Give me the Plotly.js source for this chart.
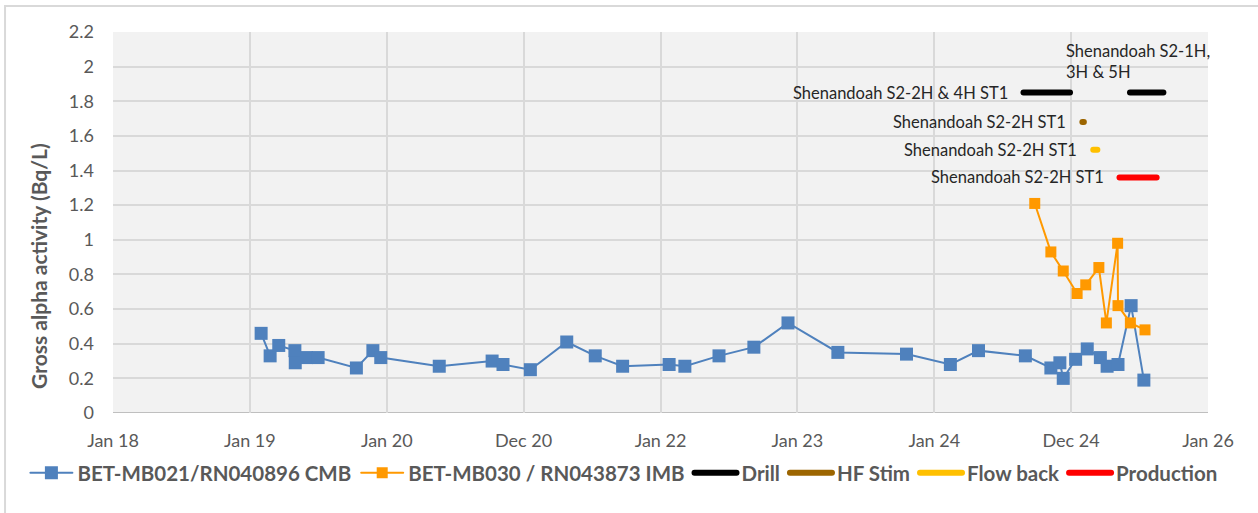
<!DOCTYPE html>
<html>
<head>
<meta charset="utf-8">
<script src="https://cdn.plot.ly/plotly-3.0.1.min.js"></script>
<style>html,body{margin:0;padding:0;background:#fff;}#chart{width:1258px;height:513px;}</style>
</head>
<body>
<div id="chart"></div>
<script>
// ---- Data ----
const tickDates = ['2018-01-01','2019-01-01','2020-01-01','2020-12-31','2021-12-31','2022-12-31','2023-12-31','2024-12-30','2025-12-30'];
const tickLabels = ['Jan 18','Jan 19','Jan 20','Dec 20','Jan 22','Jan 23','Jan 24','Dec 24','Jan 26'];

const mb021Dates = ['2019-01-31','2019-02-24','2019-03-19','2019-05-01','2019-05-02','2019-06-01','2019-07-02','2019-10-12','2019-11-25','2019-12-16',
  '2020-05-20','2020-10-08','2020-11-06','2021-01-18','2021-04-25','2021-07-10','2021-09-21','2022-01-23','2022-03-06','2022-06-05',
  '2022-09-06','2022-12-06','2023-04-18','2023-10-18','2024-02-12','2024-04-27','2024-08-30','2024-11-06','2024-11-30','2024-12-09',
  '2025-01-11','2025-02-11','2025-03-18','2025-04-05','2025-05-04','2025-06-08','2025-07-12'];
const mb021Values = [0.46,0.33,0.39,0.36,0.29,0.32,0.32,0.26,0.36,0.32,
  0.27,0.30,0.28,0.25,0.41,0.33,0.27,0.28,0.27,0.33,
  0.38,0.52,0.35,0.34,0.28,0.36,0.33,0.26,0.29,0.20,
  0.31,0.37,0.32,0.27,0.28,0.62,0.19];

const mb030Dates = ['2024-09-24','2024-11-06','2024-12-09','2025-01-15','2025-02-07','2025-03-14','2025-04-03','2025-05-03','2025-05-04','2025-06-06','2025-07-15'];
const mb030Values = [1.21,0.93,0.82,0.69,0.74,0.84,0.52,0.98,0.62,0.52,0.48];

// Activity periods (null separates periods)
const drillDates = ['2024-08-25','2024-12-27',null,'2025-06-05','2025-09-02'];
const drillValues = [1.85,1.85,null,1.85,1.85];
const stimDates = ['2025-01-29','2025-02-02'];
const stimValues = [1.68,1.68];
const flowDates = ['2025-02-27','2025-03-10'];
const flowValues = [1.52,1.52];
const prodDates = ['2025-05-08','2025-08-15'];
const prodValues = [1.36,1.36];

const labels = [
  {text:'Shenandoah S2-2H &amp; 4H ST1', x:'2024-08-25', y:1.85, anchor:'right'},
  {text:'Shenandoah S2-1H,<br>3H &amp; 5H', x:'2024-12-12', y:2.03, anchor:'left'},
  {text:'Shenandoah S2-2H ST1', x:'2025-01-29', y:1.68, anchor:'right'},
  {text:'Shenandoah S2-2H ST1', x:'2025-02-27', y:1.52, anchor:'right'},
  {text:'Shenandoah S2-2H ST1', x:'2025-05-08', y:1.36, anchor:'right'}
];
const yTitle = 'Gross alpha activity (Bq/L)';

const FONT = 'Lato, "Open Sans", sans-serif';
const GREY = '#595959';

const traces = [
  {x: mb021Dates, y: mb021Values, name: 'BET-MB021/RN040896 CMB', mode: 'lines+markers', type: 'scatter',
   line: {color: '#4F81BD', width: 2}, marker: {symbol: 'square', size: 13, color: '#4F81BD'}},
  {x: mb030Dates, y: mb030Values, name: 'BET-MB030 / RN043873 IMB', mode: 'lines+markers', type: 'scatter',
   line: {color: '#FF9900', width: 2}, marker: {symbol: 'square', size: 11, color: '#FF9900'}},
  {x: drillDates, y: drillValues, name: 'Drill', mode: 'lines', type: 'scatter', line: {color: '#000000', width: 6}},
  {x: stimDates, y: stimValues, name: 'HF Stim', mode: 'lines', type: 'scatter', line: {color: '#9C6500', width: 6}},
  {x: flowDates, y: flowValues, name: 'Flow back', mode: 'lines', type: 'scatter', line: {color: '#FFC000', width: 6}},
  {x: prodDates, y: prodValues, name: 'Production', mode: 'lines', type: 'scatter', line: {color: '#FF0000', width: 6}}
];

const annotations = labels.map(l => ({
  x: l.x, y: l.y, xref: 'x', yref: 'y', text: l.text, showarrow: false,
  xanchor: l.anchor, yanchor: 'middle', align: 'left', xshift: l.anchor === 'right' ? -14 : 0,
  font: {family: FONT, size: 16.5, color: '#262626'}
}));
annotations.push({
  x: -0.0676, y: 0.386, xref: 'paper', yref: 'paper', text: yTitle, textangle: -90, showarrow: false,
  xanchor: 'center', yanchor: 'middle', font: {family: FONT, size: 21, color: GREY, weight: 'bold'}
});

const layout = {
  width: 1258, height: 513,
  margin: {l: 113, r: 50, t: 32, b: 100},
  paper_bgcolor: '#FFFFFF', plot_bgcolor: '#F2F2F2',
  font: {family: FONT, color: GREY},
  showlegend: true,
  legend: {orientation: 'h', x: -0.08, y: -0.105, xanchor: 'left', yanchor: 'top',
    font: {family: FONT, size: 20.5, color: GREY, weight: 'bold'}, itemwidth: 42, tracegroupgap: 0, bgcolor: 'rgba(0,0,0,0)'},
  xaxis: {type: 'date', range: ['2018-01-01','2025-12-30'], tickmode: 'array', tickvals: tickDates, ticktext: tickLabels,
    showgrid: true, gridcolor: '#D9D9D9', gridwidth: 2, zeroline: false, showline: false,
    ticks: '', tickfont: {family: FONT, size: 18, color: GREY}, ticklabelstandoff: 15},
  yaxis: {range: [0, 2.2], dtick: 0.2, tick0: 0, showgrid: true, gridcolor: '#D9D9D9', gridwidth: 2,
    zeroline: false, showline: false, ticks: '', tickfont: {family: FONT, size: 18, color: GREY}, ticklabelstandoff: 18},
  shapes: [
    {type: 'line', xref: 'paper', yref: 'y', x0: 0, x1: 1, y0: 0, y1: 0, line: {color: '#BFBFBF', width: 2}, layer: 'below'},
    {type: 'rect', xref: 'paper', yref: 'paper', x0: -0.0986, x1: 1.3, y0: -0.5, y1: 1.068, line: {color: '#D9D9D9', width: 2}, fillcolor: 'rgba(0,0,0,0)', layer: 'below'}
  ],
  annotations: annotations
};

Plotly.newPlot('chart', traces, layout, {displayModeBar: false, staticPlot: true}).then(function () {
  document.querySelectorAll('path.js-line').forEach(function (p) { p.style.strokeLinecap = 'round'; });
});
</script>
</body>
</html>
